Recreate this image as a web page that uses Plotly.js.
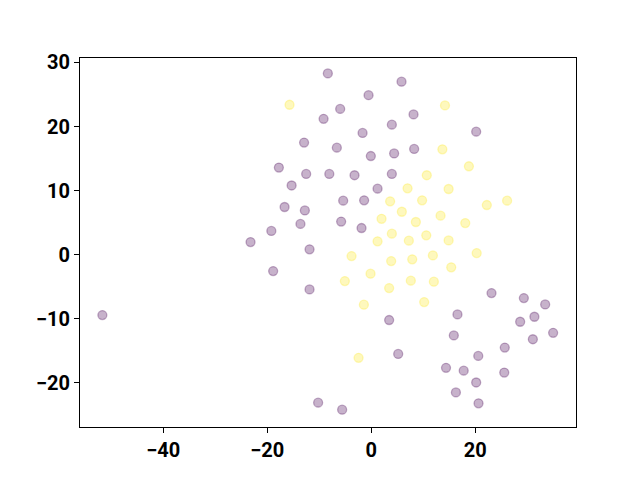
<!DOCTYPE html>
<html>
<head>
<meta charset="utf-8">
<script src="https://cdn.plot.ly/plotly-3.0.1.min.js"></script>
<style>html,body{margin:0;padding:0;background:#fff;}#chart{width:640px;height:480px;}</style>
</head>
<body>
<div id="chart"></div>
<script>
// Class 0 (purple)
var class0X = [-8.33, -9.15, -12.9, -17.75, -12.5, -8.05, -15.3, -16.65, -12.75, -13.6, -19.2, -23.2, -11.85, -18.85, -11.85, -51.7, -10.2,
  5.84, -0.5, -5.96, 8.15, 3.98, -1.65, 20.2, -6.6, -0.06, 4.42, 8.27, -3.2, 3.98, 1.23, -5.38, -1.35, -5.77, -1.85,
  23.15, 29.37, 33.47, 16.6, 31.4, 28.66, 3.46, 15.9, 35.0, 31.1, 25.7, 20.6, 5.2, 14.4, 17.8, 25.6, 20.2, 16.3, 20.65, -5.58];
var class0Y = [28.3, 21.2, 17.5, 13.6, 12.6, 12.6, 10.8, 7.44, 6.9, 4.8, 3.7, 1.97, 0.83, -2.56, -5.42, -9.43, -23.1,
  27.0, 24.9, 22.75, 21.9, 20.3, 19.0, 19.2, 16.7, 15.4, 15.8, 16.5, 12.4, 12.6, 10.3, 8.43, 8.48, 5.16, 4.16,
  -6.0, -6.78, -7.77, -9.33, -9.69, -10.47, -10.2, -12.6, -12.2, -13.2, -14.5, -15.8, -15.5, -17.66, -18.1, -18.4, -19.95, -21.5, -23.2, -24.2];
// Class 1 (yellow)
var class1X = [-15.7, 14.2, 13.7, 18.8, 10.7, 7.0, 14.9, 3.65, 9.8, 22.25, 26.15, 5.9, 13.35, 2.0, 8.6, 18.1, 3.98, 10.6, 1.23, 7.25, 14.9,
  -3.77, 3.85, 7.9, 11.87, 20.3, -0.12, 15.4, -5.06, 7.63, 12.06, 3.46, -1.4, 10.2, -2.42];
var class1Y = [23.4, 23.3, 16.45, 13.8, 12.4, 10.36, 10.25, 8.33, 8.48, 7.75, 8.43, 6.7, 6.09, 5.6, 5.1, 4.94, 3.28, 3.02, 2.08, 2.19, 2.23,
  -0.22, -1.0, -0.73, -0.11, 0.25, -2.97, -1.98, -4.12, -4.06, -4.22, -5.22, -7.81, -7.4, -16.1];
var xTicks = [-40, -20, 0, 20];
var yTicks = [-20, -10, 0, 10, 20, 30];

var purple = 'rgba(68,1,84,0.3)';
var yellow = 'rgba(253,231,37,0.3)';

var traces = [
  {x: class0X, y: class0Y, mode: 'markers', type: 'scatter',
   marker: {size: 9, color: purple, line: {color: purple, width: 1.3}}},
  {x: class1X, y: class1Y, mode: 'markers', type: 'scatter',
   marker: {size: 9, color: yellow, line: {color: yellow, width: 1.3}}}
];

var tickFont = {family: 'Roboto, "Liberation Sans", sans-serif', size: 20, color: '#000', weight: 'bold'};

var layout = {
  width: 640, height: 480,
  margin: {l: 80, r: 64, t: 58, b: 53, pad: 0},
  paper_bgcolor: '#fff', plot_bgcolor: '#fff',
  showlegend: false,
  xaxis: {range: [-56.0, 39.4], tickvals: xTicks, ticks: 'outside', ticklen: 5, tickwidth: 1, tickcolor: '#000',
          showgrid: false, zeroline: false, showline: true, linecolor: '#000', linewidth: 1, mirror: true,
          tickfont: tickFont},
  yaxis: {range: [-26.9, 30.7], tickvals: yTicks, ticks: 'outside', ticklen: 5, tickwidth: 1, tickcolor: '#000',
          showgrid: false, zeroline: false, showline: true, linecolor: '#000', linewidth: 1, mirror: true,
          tickfont: tickFont}
};

Plotly.newPlot('chart', traces, layout, {staticPlot: true, displayModeBar: false});
</script>
</body>
</html>
